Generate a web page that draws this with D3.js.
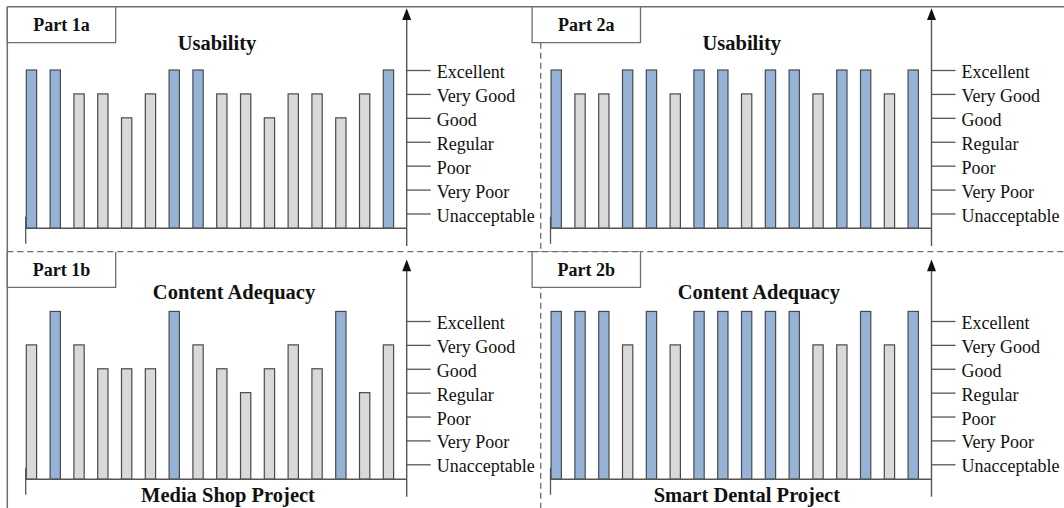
<!DOCTYPE html>
<html><head><meta charset="utf-8">
<script src="https://cdn.jsdelivr.net/npm/d3@7"></script>
<style>
html,body{margin:0;padding:0;background:#fff;}
svg{display:block;}
text{font-family:"Liberation Serif","Times New Roman",serif;fill:#111;}
</style></head>
<body><svg id="c" width="1064" height="508"></svg>
<script>
// ---- data ----
const levels = ["Unacceptable","Very Poor","Poor","Regular","Good","Very Good","Excellent"];
const levelValues = [1,2,3,4,5,6,7];
const items = d3.range(1,17).map(String); // 16 evaluated items per chart
const mediaShopUsability = [7,7,6,6,5,6,7,7,6,6,5,6,6,5,6,7];
const mediaShopContent   = [6,7.4,6,5,5,5,7.4,6,5,4,5,6,5,7.4,4,6];
const smartDentalUsability = [7,6,6,7,7,6,7,7,6,7,7,6,7,7,6,7];
const smartDentalContent   = [7.4,7.4,7.4,6,7.4,6,7.4,7.4,7.4,7.4,7.4,6,6,7.4,6,7.4];
const partLabels = ["Part 1a","Part 1b","Part 2a","Part 2b"];
const chartTitles = ["Usability","Content Adequacy"];
const projectTitles = ["Media Shop Project","Smart Dental Project"];

// ---- drawing ----
const svg = d3.select("#c");
const LINE = "#6e6e6e", AXIS = "#555", BLUE = "#95b3d7", GRAY = "#d9d9d9", BAR_STROKE = "#4a4a4a";

// frame
svg.append("line").attr("x1",7.3).attr("x2",1064).attr("y1",6.7).attr("y2",6.7).attr("stroke",LINE).attr("stroke-width",1.5);
svg.append("line").attr("x1",7.3).attr("x2",7.3).attr("y1",6.7).attr("y2",508).attr("stroke",LINE).attr("stroke-width",1.5);
svg.append("line").attr("x1",7.3).attr("x2",1064).attr("y1",251.7).attr("y2",251.7).attr("stroke",LINE).attr("stroke-width",1.3).attr("stroke-dasharray","6,4");
svg.append("line").attr("x1",540.7).attr("x2",540.7).attr("y1",42.7).attr("y2",508).attr("stroke",LINE).attr("stroke-width",1.3).attr("stroke-dasharray","6,4");

const panels = [
  {data: mediaShopUsability, part: partLabels[0], title: chartTitles[0], dx: 0, row: 0, titleX: 217},
  {data: mediaShopContent, part: partLabels[1], title: chartTitles[1], dx: 0, row: 1, titleX: 234, project: projectTitles[0], projX: 228},
  {data: smartDentalUsability, part: partLabels[2], title: chartTitles[0], dx: 524.8, row: 0, titleX: 217},
  {data: smartDentalContent, part: partLabels[3], title: chartTitles[1], dx: 524.8, row: 1, titleX: 234, project: projectTitles[1], projX: 222}
];

const rows = [
  {boxTop: 6.7, boxBot: 42.7, base: 228.3, topTick: 70, botTick: 213.5, arrowTop: 8.3, axisBot: 246, titleY: 50},
  {boxTop: 251.7, boxBot: 287.3, base: 479.3, topTick: 321, botTick: 464.3, arrowTop: 259.5, axisBot: 496.7, titleY: 299}
];

panels.forEach(p => {
  const r = rows[p.row];
  const g = svg.append("g").attr("transform", `translate(${p.dx},0)`);
  const step = (r.botTick - r.topTick) / 6;
  const baseLevel = 1 - (r.base - r.botTick) / step;
  const y = d3.scaleLinear().domain([baseLevel, 7]).range([r.base, r.topTick]);
  const x = d3.scaleBand().domain(items).range([25.7, 394.2]).paddingInner(0.517).paddingOuter(0);
  const axisX = 406.7;

  // part box (white, three solid sides + top)
  g.append("rect").attr("x",7.3).attr("y",r.boxTop).attr("width",108.4).attr("height",r.boxBot-r.boxTop).attr("fill","#fff").attr("stroke","none");
  g.append("path").attr("d",`M7.3,${r.boxTop}V${r.boxBot}H115.7V${r.boxTop}`).attr("fill","none").attr("stroke",LINE).attr("stroke-width",1.3);
  if (p.row===1) {
    g.append("line").attr("x1",7.3).attr("x2",115.7).attr("y1",r.boxTop).attr("y2",r.boxTop).attr("stroke",LINE).attr("stroke-width",1.3).attr("stroke-dasharray","6,4");
  } else {
    g.append("line").attr("x1",7.3).attr("x2",115.7).attr("y1",r.boxTop).attr("y2",r.boxTop).attr("stroke",LINE).attr("stroke-width",1.5);
  }
  g.append("text").attr("x",61.5).attr("y",(r.boxTop+r.boxBot)/2+6).attr("text-anchor","middle")
    .attr("font-weight","bold").attr("font-size",18).text(p.part);

  // title
  g.append("text").attr("x",p.titleX).attr("y",r.titleY).attr("text-anchor","middle")
    .attr("font-weight","bold").attr("font-size",20.5).text(p.title);
  if (p.project) {
    g.append("text").attr("x",p.projX).attr("y",502).attr("text-anchor","middle")
      .attr("font-weight","bold").attr("font-size",20.5).text(p.project);
  }

  // small left tick
  g.append("line").attr("x1",25.7).attr("x2",25.7).attr("y1",r.base-11.6).attr("y2",r.base+15.5).attr("stroke",AXIS).attr("stroke-width",1.3);

  // bars
  g.selectAll("rect.bar").data(p.data).enter().append("rect").attr("class","bar")
    .attr("x",(d,i)=>x(items[i])+0.6)
    .attr("width",x.bandwidth()-1.2)
    .attr("y",d=>y(d))
    .attr("height",d=>y(baseLevel)-y(d))
    .attr("fill",d=>d>=7?BLUE:GRAY)
    .attr("stroke",BAR_STROKE).attr("stroke-width",1.2);

  // baseline
  g.append("line").attr("x1",25.7).attr("x2",axisX).attr("y1",y(baseLevel)).attr("y2",y(baseLevel)).attr("stroke",AXIS).attr("stroke-width",1.4);

  // y axis with arrow
  g.append("line").attr("x1",axisX).attr("x2",axisX).attr("y1",r.arrowTop+6).attr("y2",r.axisBot).attr("stroke",AXIS).attr("stroke-width",1.4);
  g.append("path").attr("d",`M${axisX},${r.arrowTop}L${axisX-4.5},${r.arrowTop+11.7}L${axisX+4.5},${r.arrowTop+11.7}Z`).attr("fill","#111");

  const yAxis = d3.axisRight(y).tickValues(levelValues).tickFormat(v=>levels[v-1]).tickSize(24).tickPadding(6);
  const ax = g.append("g").attr("transform",`translate(${axisX},0)`).call(yAxis);
  ax.select(".domain").remove();
  ax.selectAll(".tick line").attr("stroke",AXIS).attr("stroke-width",1.3);
  ax.selectAll(".tick text").attr("font-family",'"Liberation Serif","Times New Roman",serif')
    .attr("font-size",18).attr("fill","#111").attr("dy","0.42em");
});
</script></body></html>
